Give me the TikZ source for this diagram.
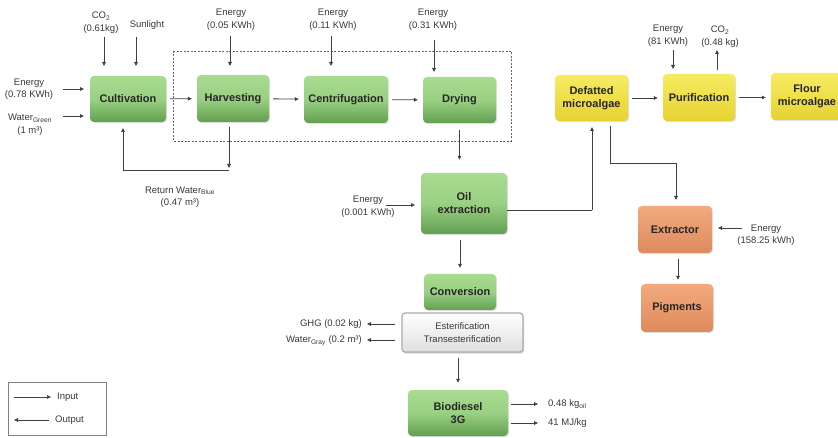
\documentclass[tikz,border=0pt]{standalone}
\usepackage{fontspec}
\setmainfont{Liberation Sans}
\usetikzlibrary{arrows.meta,shadows}
\definecolor{arrgray}{HTML}{404040}
\definecolor{labgray}{HTML}{3A3A3A}
\definecolor{gtop}{HTML}{A8DC90}
\definecolor{gbot}{HTML}{62A050}
\definecolor{ytop}{HTML}{F6EC62}
\definecolor{ybot}{HTML}{E6D232}
\definecolor{otop}{HTML}{F2AA7E}
\definecolor{obot}{HTML}{DE8A5C}
\begin{document}
\begin{tikzpicture}[x=1pt,y=-1pt,
  boxbase/.style={rounded corners=4pt, align=center, text=black!85,
    font=\fontsize{11}{13}\selectfont\bfseries, inner sep=1pt,
    drop shadow={shadow xshift=1pt, shadow yshift=-1pt, opacity=0.25}},
  gbox/.style={boxbase, top color=gtop, bottom color=gbot, middle color=gtop!80!gbot},
  ybox/.style={boxbase, top color=ytop, bottom color=ybot},
  obox/.style={boxbase, top color=otop, bottom color=obot},
  lab/.style={align=center, text=labgray, font=\fontsize{9.5}{12.5}\selectfont, inner sep=0pt},
  arr/.style={draw=arrgray, line width=0.8pt, -{Triangle[length=4pt,width=3.6pt]}},
  ln/.style={draw=arrgray, line width=0.8pt},
  flow/.style={arr, shorten <=4pt, shorten >=5pt}]
\clip (0,0) rectangle (838,438);
\fill[white] (0,0) rectangle (838,438);

% dashed group
\draw[gray!80!black, line width=0.8pt, dash pattern=on 2pt off 1.5pt] (173,51) rectangle (511,141);

% boxes
\node[gbox, minimum width=76pt, minimum height=46pt] (cult) at (128,99) {Cultivation};
\node[gbox, minimum width=72pt, minimum height=47pt] (harv) at (233,98.5) {Harvesting};
\node[gbox, minimum width=84pt, minimum height=47pt] (cent) at (346,99.5) {Centrifugation};
\node[gbox, minimum width=73pt, minimum height=46pt] (dry) at (459.5,100) {Drying};
\node[gbox, minimum width=86pt, minimum height=61pt] (oil) at (464,203.5) {Oil\\extraction};
\node[gbox, minimum width=72pt, minimum height=36pt] (conv) at (460,292) {Conversion};
\node[rounded corners=3pt, minimum width=121pt, minimum height=39pt, align=center,
  top color=white, bottom color=gray!25, draw=gray!65, line width=1.2pt,
  drop shadow={shadow xshift=1pt, shadow yshift=-1.5pt, opacity=0.35},
  text=labgray, font=\fontsize{9.5}{12.5}\selectfont] (ester) at (462.5,332.5) {Esterification\\Transesterification};
\node[gbox, minimum width=100pt, minimum height=46pt] (bio) at (458,413) {Biodiesel\\3G};
\node[ybox, minimum width=73pt, minimum height=46pt] (def) at (591.5,98) {Defatted\\microalgae};
\node[ybox, minimum width=72pt, minimum height=47pt] (pur) at (699,97.5) {Purification};
\node[ybox, minimum width=72pt, minimum height=47pt] (flour) at (807,96.5) {Flour\\microalgae};
\node[obox, minimum width=74pt, minimum height=47pt] (ext) at (675,229.5) {Extractor};
\node[obox, minimum width=72pt, minimum height=48pt] (pig) at (677,308) {Pigments};

% labels
\node[lab] (co2a) at (101,22.5) {CO\textsubscript{2}\\(0.61kg)};
\node[lab] (sun) at (147,25) {Sunlight};
\node[lab] (e1) at (29,89) {Energy\\(0.78 KWh)};
\node[lab] (wg) at (30,124.5) {Water\textsubscript{Green}\\(1 m³)};
\node[lab] (e2) at (231,19.5) {Energy\\(0.05 KWh)};
\node[lab] (e3) at (333,19.5) {Energy\\(0.11 KWh)};
\node[lab] (e4) at (433,19.5) {Energy\\(0.31 KWh)};
\node[lab] (ret) at (180,197) {Return Water\textsubscript{Blue}\\(0.47 m³)};
\node[lab] (e5) at (368,206.5) {Energy\\(0.001 KWh)};
\node[lab] (e6) at (668,35.5) {Energy\\(81 KWh)};
\node[lab] (co2b) at (720,36.5) {CO\textsubscript{2}\\(0.48 kg)};
\node[lab] (e7) at (766,235) {Energy\\(158.25 kWh)};
\node[lab, anchor=east] (ghg) at (362,324) {GHG (0.02 kg)};
\node[lab, anchor=east] (wgr) at (362,341) {Water\textsubscript{Gray} (0.2 m³)};
\node[lab, anchor=west] (kg) at (548,404) {0.48 kg\textsubscript{oil}};
\node[lab, anchor=west] (mj) at (548,423) {41 MJ/kg};

% free-end coordinates
\coordinate (a1) at (104,37);  \coordinate (a1e) at (104,66);
\coordinate (a2) at (136,37);  \coordinate (a2e) at (136,66);
\coordinate (a3) at (63,89);   \coordinate (a3e) at (84,89);
\coordinate (a4) at (63,116);  \coordinate (a4e) at (84,116);
\coordinate (a5) at (230,36);  \coordinate (a5e) at (230,66);
\coordinate (a6) at (331,36);  \coordinate (a6e) at (331,66);
\coordinate (a7) at (434,40);  \coordinate (a7e) at (434,72);
\coordinate (r1) at (229,127); \coordinate (r2) at (229,170); \coordinate (r3) at (123,170); \coordinate (r4) at (123,128);
\coordinate (a8) at (386,205); \coordinate (a8e) at (415,205);
\coordinate (o1) at (592,210); \coordinate (o2) at (592,127);
\coordinate (d1) at (610,126); \coordinate (d2) at (610,163); \coordinate (d3) at (676,163); \coordinate (d4) at (676,200);
\coordinate (p1) at (673,50);  \coordinate (p1e) at (673,69);
\coordinate (p2) at (717,70);  \coordinate (p2e) at (717,50);
\coordinate (x1) at (742,228); \coordinate (x1e) at (718,228);
\coordinate (g1) at (395,324); \coordinate (g1e) at (367,324);
\coordinate (g2) at (395,340); \coordinate (g2e) at (367,340);
\coordinate (b1) at (511,404); \coordinate (b1e) at (538,404);
\coordinate (b2) at (511,423); \coordinate (b2e) at (538,423);

% input / output arrows
\draw[arr] (a1) -- (a1e);
\draw[arr] (a2) -- (a2e);
\draw[arr] (a3) -- (a3e);
\draw[arr] (a4) -- (a4e);
\draw[arr] (a5) -- (a5e);
\draw[arr] (a6) -- (a6e);
\draw[arr] (a7) -- (a7e);
\draw[arr] (a8) -- (a8e);
\draw[arr] (p1) -- (p1e);
\draw[arr] (p2) -- (p2e);
\draw[arr] (x1) -- (x1e);
\draw[arr] (g1) -- (g1e);
\draw[arr] (g2) -- (g2e);
\draw[arr] (b1) -- (b1e);
\draw[arr] (b2) -- (b2e);

% process flow
\draw[flow] (cult) -- (harv);
\draw[flow] (harv) -- (cent);
\draw[flow] (cent) -- (dry);
\draw[flow] (def.east) -- (pur.west |- def.east);
\draw[flow] (pur.east) -- (flour.west |- pur.east);
\draw[arr] (r1) -- ([yshift=2pt]r2);
\draw[ln] (r2) -- (r3);
\draw[arr] (r3) -- (r4);
\draw[arr, shorten <=7pt, shorten >=13pt] (dry.south) -- (oil.north -| dry.south);
\draw[arr, shorten <=6pt, shorten >=6pt] (oil.south -| conv.north) -- (conv.north);
\draw[arr, shorten <=5pt, shorten >=7pt] (ester.south -| bio.north) -- (bio.north);
\draw[arr, shorten <=6pt, shorten >=4pt] (ext.south -| 678,0) -- (pig.north -| 678,0);
\draw[ln] (oil.east |- o1) -- (o1);
\draw[arr] (o1) -- (o2);
\draw[arr] (d1) -- (d2) -- (d3) -- (d4);

% legend
\node[draw=gray, line width=1pt, minimum width=98pt, minimum height=53pt, inner sep=0pt] (leg) at (57,408.5) {};
\coordinate (l1) at (14,397); \coordinate (l1e) at (51,397);
\coordinate (l2) at (49,420); \coordinate (l2e) at (14,420);
\draw[arr, line width=0.6pt] (l1) -- (l1e);
\draw[arr, line width=0.6pt] (l2) -- (l2e);
\node[lab, anchor=west] (inp) at (57,397) {Input};
\node[lab, anchor=west] (outp) at (55,420) {Output};
\end{tikzpicture}
\end{document}
